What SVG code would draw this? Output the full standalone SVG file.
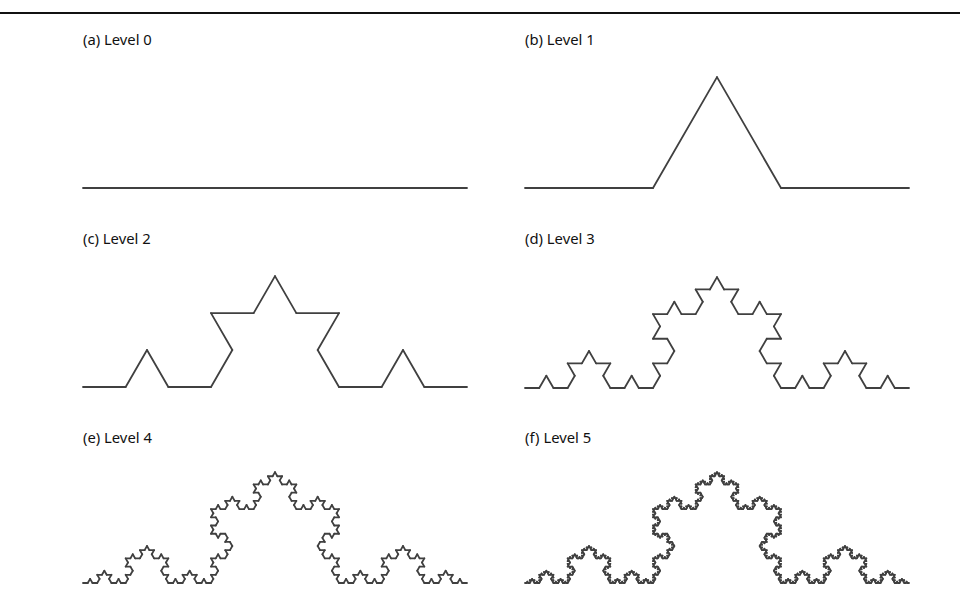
<svg xmlns="http://www.w3.org/2000/svg" xmlns:xlink="http://www.w3.org/1999/xlink" width="960" height="615" viewBox="0 0 960 615">
<style>
.lbl{font-family:"Noto Sans","Liberation Sans",sans-serif;font-size:14.8px;fill:#111}
.seg{stroke:#404040;stroke-width:1.8;stroke-linecap:round;fill:none}
</style>
<defs>
<line id="k0" class="seg" x1="0" y1="0" x2="1" y2="0" vector-effect="non-scaling-stroke"/>
<g id="k1">
<use href="#k0" transform="scale(0.333333)"/>
<use href="#k0" transform="translate(0.333333,0) rotate(-60) scale(0.333333)"/>
<use href="#k0" transform="translate(0.5,-0.288675) rotate(60) scale(0.333333)"/>
<use href="#k0" transform="translate(0.666667,0) scale(0.333333)"/>
</g>
<g id="k2">
<use href="#k1" transform="scale(0.333333)"/>
<use href="#k1" transform="translate(0.333333,0) rotate(-60) scale(0.333333)"/>
<use href="#k1" transform="translate(0.5,-0.288675) rotate(60) scale(0.333333)"/>
<use href="#k1" transform="translate(0.666667,0) scale(0.333333)"/>
</g>
<g id="k3">
<use href="#k2" transform="scale(0.333333)"/>
<use href="#k2" transform="translate(0.333333,0) rotate(-60) scale(0.333333)"/>
<use href="#k2" transform="translate(0.5,-0.288675) rotate(60) scale(0.333333)"/>
<use href="#k2" transform="translate(0.666667,0) scale(0.333333)"/>
</g>
<g id="k4">
<use href="#k3" transform="scale(0.333333)"/>
<use href="#k3" transform="translate(0.333333,0) rotate(-60) scale(0.333333)"/>
<use href="#k3" transform="translate(0.5,-0.288675) rotate(60) scale(0.333333)"/>
<use href="#k3" transform="translate(0.666667,0) scale(0.333333)"/>
</g>
<g id="k5">
<use href="#k4" transform="scale(0.333333)"/>
<use href="#k4" transform="translate(0.333333,0) rotate(-60) scale(0.333333)"/>
<use href="#k4" transform="translate(0.5,-0.288675) rotate(60) scale(0.333333)"/>
<use href="#k4" transform="translate(0.666667,0) scale(0.333333)"/>
</g>
</defs>
<rect width="960" height="615" fill="#fff"/>
<line x1="0" y1="13" x2="960" y2="13" stroke="#111" stroke-width="2"/>
<g id="panel-a">
<text class="lbl" x="83" y="45">(a) Level 0</text>
<use href="#k0" transform="translate(83,188) scale(384)"/>
</g>
<g id="panel-b">
<text class="lbl" x="525" y="45">(b) Level 1</text>
<use href="#k1" transform="translate(525,188) scale(384)"/>
</g>
<g id="panel-c">
<text class="lbl" x="83" y="244">(c) Level 2</text>
<use href="#k2" transform="translate(83,387) scale(384)"/>
</g>
<g id="panel-d">
<text class="lbl" x="525" y="244">(d) Level 3</text>
<use href="#k3" transform="translate(525,388) scale(384)"/>
</g>
<g id="panel-e">
<text class="lbl" x="83" y="443">(e) Level 4</text>
<use href="#k4" transform="translate(83,583) scale(384)"/>
</g>
<g id="panel-f">
<text class="lbl" x="525" y="443">(f) Level 5</text>
<use href="#k5" transform="translate(525,583) scale(384)"/>
</g>
</svg>
